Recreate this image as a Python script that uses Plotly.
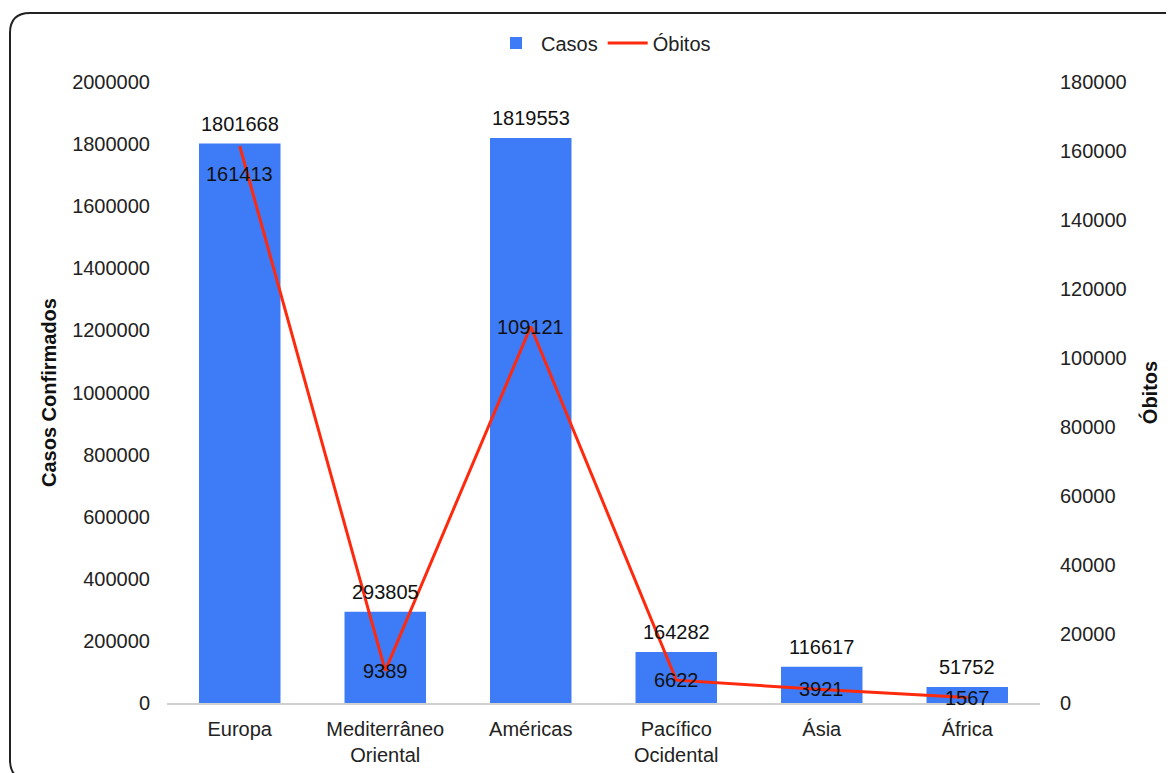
import plotly.graph_objects as go

categorias = ["Europa", "Mediterrâneo<br>Oriental", "Américas", "Pacífico<br>Ocidental", "Ásia", "África"]
casos = [1801668, 293805, 1819553, 164282, 116617, 51752]
obitos = [161413, 9389, 109121, 6622, 3921, 1567]
obitos_label_shift = [-28, 0, 0, 0, 0, 0]

# page body has an 8px offset; figure coordinates below are relative to the figure
W, H = 1166, 765
L, R, T, B = 159, 1166 - 1032, 74, 765 - 695
PW, PH = W - L - R, H - T - B

FONT = "Liberation Sans, Arial, sans-serif"
FS = 20

fig = go.Figure()
fig.add_trace(go.Bar(x=categorias, y=casos, name="Casos", marker=dict(color="#3e7bf6", line=dict(width=0)),
                     yaxis="y"))
fig.add_trace(go.Scatter(x=categorias, y=obitos, name="Óbitos", mode="lines",
                         line=dict(color="#ff2a0d", width=3), yaxis="y2"))

ann = []
for c, v in zip(categorias, casos):
    ann.append(dict(x=c, y=v, xref="x", yref="y", text=str(v), showarrow=False, yanchor="bottom",
                    yshift=7, font=dict(family=FONT, size=FS, color="#111")))
for c, v, s in zip(categorias, obitos, obitos_label_shift):
    ann.append(dict(x=c, y=v, xref="x", yref="y2", text=str(v), showarrow=False, yanchor="middle",
                    yshift=s, font=dict(family=FONT, size=FS, color="#111")))

def px(x):
    return (x - L) / PW

def py(y):
    return (H - B - y) / PH

# rounded frame; its right and bottom edges fall outside the visible page
x0, x1, y0, y1, r = 2, 1185, 5, 772, 20
path = (f"M {px(x0+r)},{py(y0)} L {px(x1-r)},{py(y0)} Q {px(x1)},{py(y0)} {px(x1)},{py(y0+r)} "
        f"L {px(x1)},{py(y1-r)} Q {px(x1)},{py(y1)} {px(x1-r)},{py(y1)} "
        f"L {px(x0+r)},{py(y1)} Q {px(x0)},{py(y1)} {px(x0)},{py(y1-r)} "
        f"L {px(x0)},{py(y0+r)} Q {px(x0)},{py(y0)} {px(x0+r)},{py(y0)} Z")

fig.update_layout(
    width=W, height=H,
    margin=dict(l=L, r=R, t=T, b=B, pad=0, autoexpand=False),
    paper_bgcolor="white", plot_bgcolor="white",
    font=dict(family=FONT, size=FS, color="#222"),
    bargap=0.44,
    showlegend=True,
    legend=dict(orientation="h", x=0.5, xanchor="center", y=(695 - 35) / PH, yanchor="middle",
                font=dict(family=FONT, size=FS, color="#222"), itemwidth=40, tracegroupgap=0),
    xaxis=dict(showgrid=False, showline=True, linecolor="#d0d0d0", linewidth=1.5, ticks="",
               automargin=False,
               tickfont=dict(family=FONT, size=FS, color="#222"), ticklabelstandoff=7),
    yaxis=dict(range=[0, 2000000], dtick=200000, showgrid=False, zeroline=False, ticks="",
               automargin=False, tickformat="d", ticklabelstandoff=16,
               title=dict(text="<b>Casos Confirmados</b>", standoff=10,
                          font=dict(family=FONT, size=FS, color="#111"))),
    yaxis2=dict(range=[0, 180000], dtick=20000, overlaying="y", side="right", showgrid=False,
                automargin=False, zeroline=False, ticks="", tickformat="d", ticklabelstandoff=19,
                title=dict(text="<b>Óbitos</b>", standoff=17,
                           font=dict(family=FONT, size=FS, color="#111"))),
    annotations=ann,
    shapes=[dict(type="path", xref="paper", yref="paper", path=path,
                 line=dict(color="#222", width=2), fillcolor="rgba(0,0,0,0)", layer="below")],
)

fig.write_html("out.html")
